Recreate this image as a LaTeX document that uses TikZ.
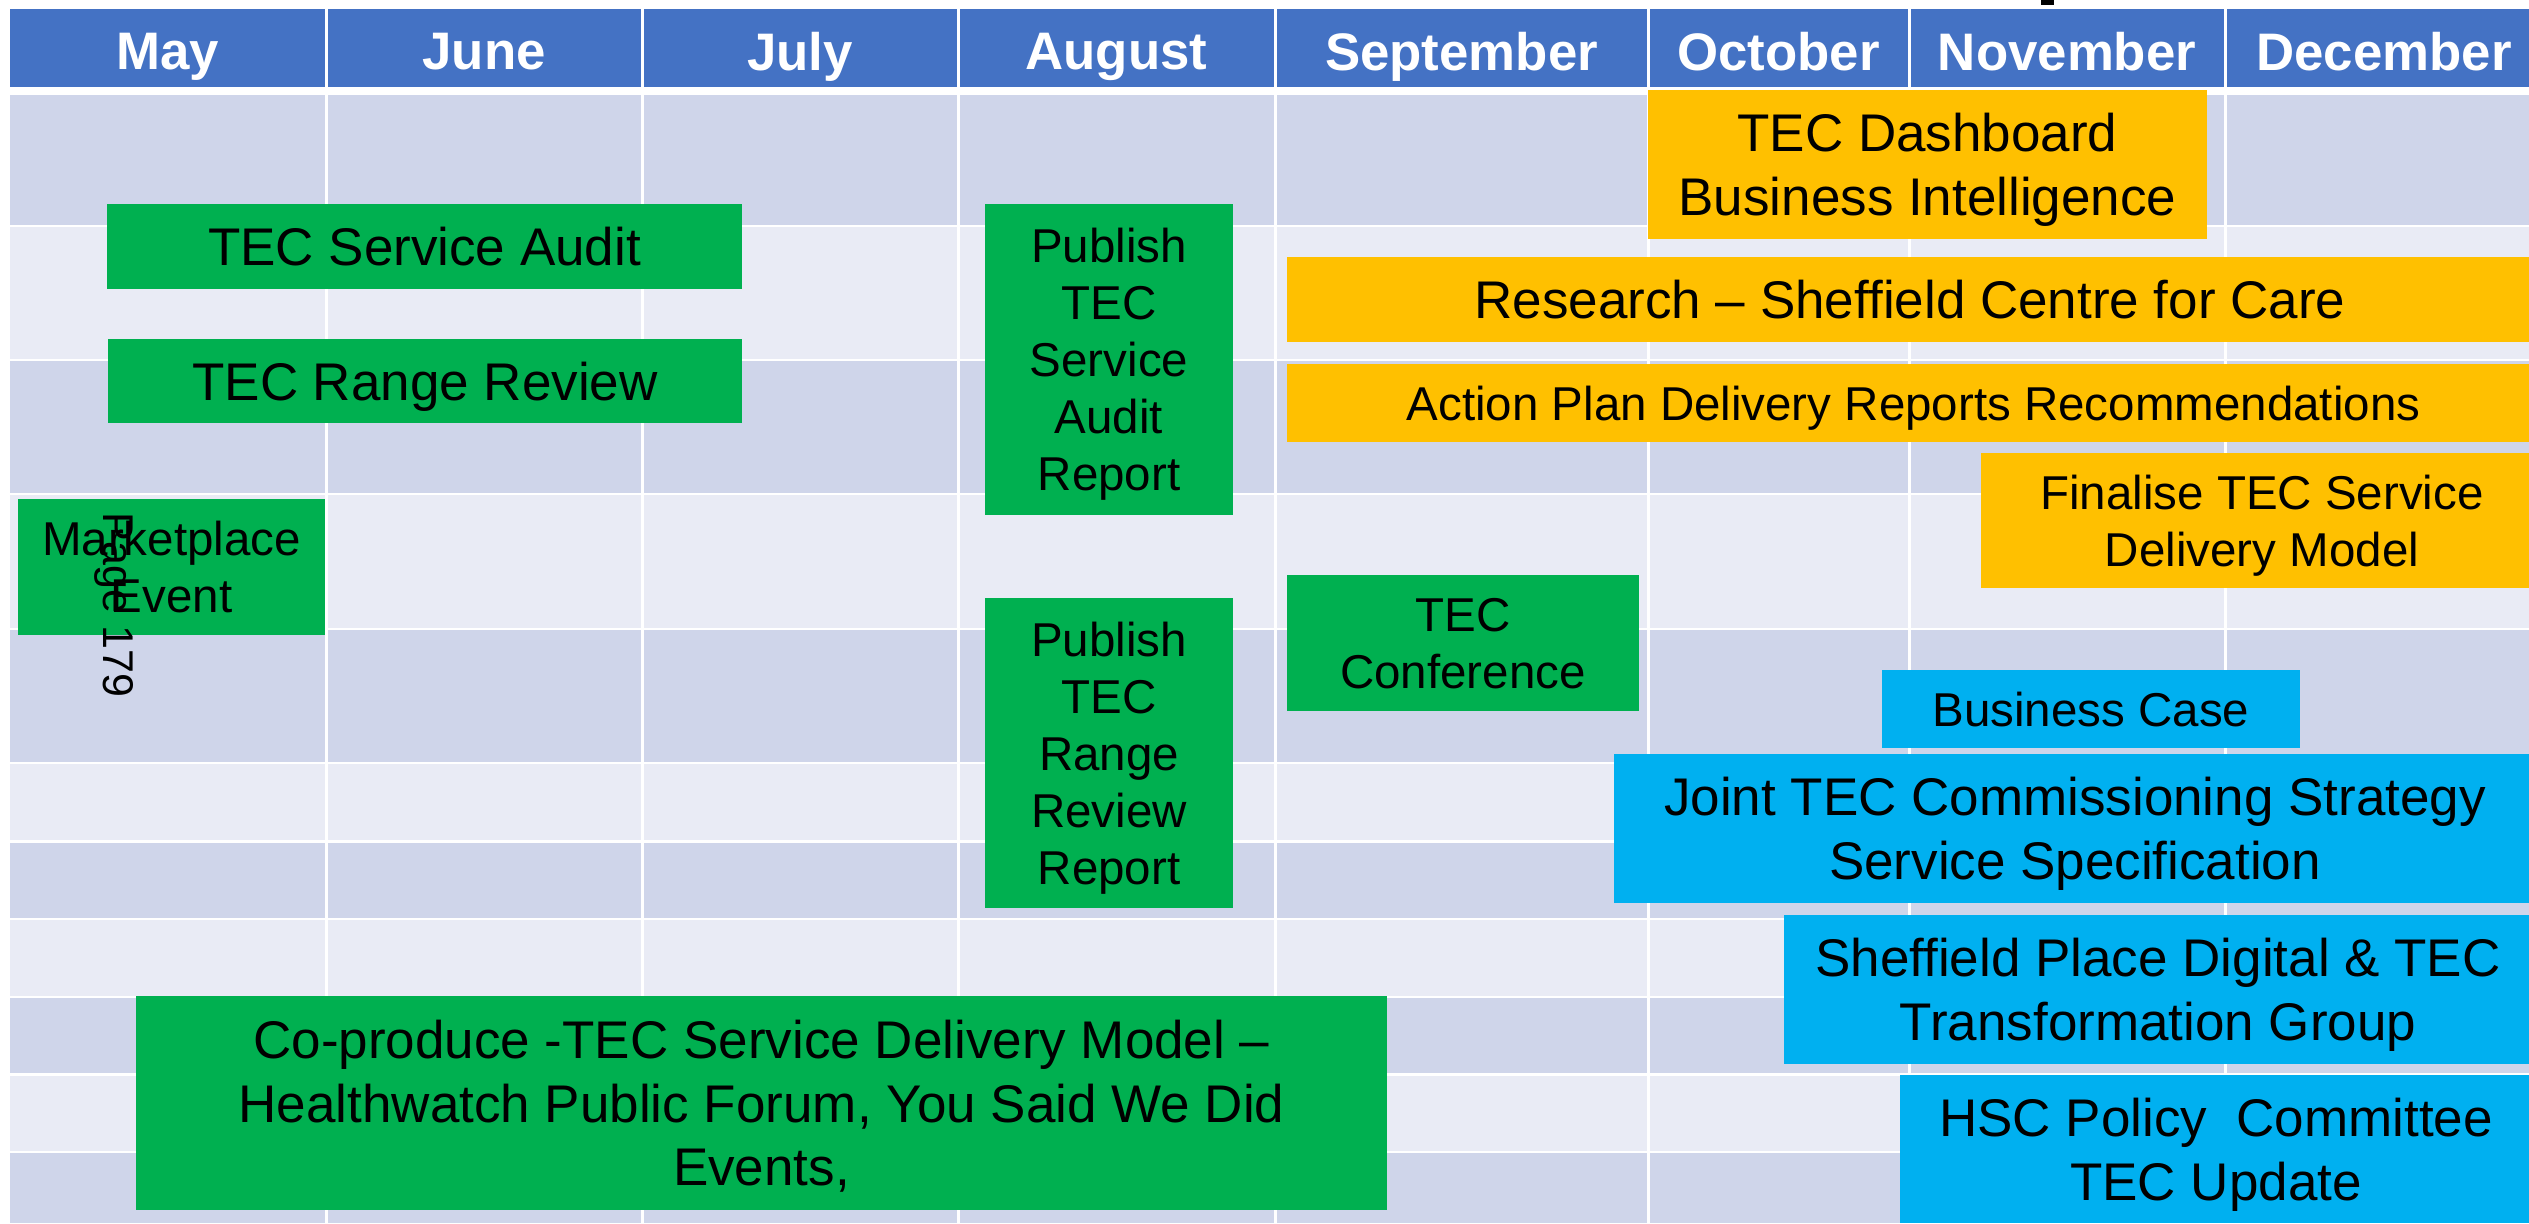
\documentclass[tikz,border=0pt]{standalone}
\usepackage{fontspec}
\setmainfont{Liberation Sans}
\definecolor{headblue}{HTML}{4472C4}
\definecolor{rowdark}{HTML}{CFD5EA}
\definecolor{rowlight}{HTML}{E9EBF5}
\definecolor{tecgreen}{HTML}{00B050}
\definecolor{tecamber}{HTML}{FFC000}
\definecolor{teccyan}{HTML}{00B0F0}
\tikzset{
  task/.style={rectangle, inner sep=0pt, align=center, text depth=0pt},
  bigtext/.style={font=\fontsize{26.5}{31.8}\selectfont},
  smalltext/.style={font=\fontsize{23.75}{28.5}\selectfont},
  greenbar/.style={task, fill=tecgreen},
  amberbar/.style={task, fill=tecamber},
  cyanbar/.style={task, fill=teccyan},
  month/.style={text=white, inner sep=0pt, text depth=0pt, font=\fontsize{26.4}{30}\selectfont\bfseries}
}
\begin{document}
\begin{tikzpicture}[x=0.5pt, y=-0.5pt]
  \useasboundingbox (0,0) rectangle (2529,1223);
  \fill[white] (0,0) rectangle (2529,1223);
  % table
  \fill[headblue] (10,9) rectangle (2529,87);
  \foreach \ya/\yb/\c in {95/226/rowdark, 226/360/rowlight, 360/494/rowdark, 494/629/rowlight,
      629/763/rowdark, 763/841.5/rowlight, 841.5/919/rowdark, 919/997/rowlight,
      997/1074.5/rowdark, 1074.5/1152/rowlight, 1152/1223/rowdark}
    \fill[\c] (10,\ya) rectangle (2529,\yb);
  \foreach \yy in {226,360,494,629,763,841.5,919,997,1074.5,1152}
    \draw[white, line width=1.25pt] (10,\yy) -- (2529,\yy);
  \foreach \xx in {326,642,958,1275,1648,1909,2225}
    \draw[white, line width=1.5pt] (\xx,9) -- (\xx,1223);
  \fill[black] (2041,0) rectangle (2054,5);
  % months
  \node[month] (may) at (168,51) {May};
  \node[month] (jun) at (484,51) {June};
  \node[month] (jul) at (800,51) {July};
  \node[month] (aug) at (1116.5,51) {August};
  \node[month] (sep) at (1461.5,51) {September};
  \node[month] (oct) at (1778.5,51) {October};
  \node[month] (nov) at (2067,51) {November};
  \node[month] (dec) at (2384,51) {December};
  % tasks
  \node[amberbar, bigtext, minimum width=279.5pt, minimum height=74.5pt] (dash) at (1927.5,164.5) {TEC Dashboard\\Business Intelligence};
  \node[greenbar, bigtext, minimum width=317.5pt, minimum height=42.5pt] (audit) at (424.5,246.5) {TEC Service Audit};
  \node[greenbar, bigtext, minimum width=317pt, minimum height=42pt] (range) at (425,381) {TEC Range Review};
  \node[greenbar, smalltext, minimum width=153.5pt, minimum height=68pt] (market) at (171.5,567) {Marketplace\\Event};
  \node[greenbar, smalltext, minimum width=124pt, minimum height=155.5pt] (pubaudit) at (1109,359.5) {Publish\\TEC\\Service\\Audit\\Report};
  \node[greenbar, smalltext, minimum width=124pt, minimum height=155pt] (pubrange) at (1109,753) {Publish\\TEC\\Range\\Review\\Report};
  \node[amberbar, bigtext, minimum width=623pt, minimum height=42.5pt] (research) at (1910,299.5) {Research – Sheffield Centre for Care};
  \node[amberbar, smalltext, minimum width=626.5pt, minimum height=39pt] (action) at (1913.5,403) {Action Plan Delivery Reports Recommendations};
  \node[amberbar, smalltext, minimum width=281pt, minimum height=67.5pt] (final) at (2262,520.5) {Finalise TEC Service\\Delivery Model};
  \node[greenbar, smalltext, minimum width=176pt, minimum height=68pt] (conf) at (1463,643) {TEC\\Conference};
  \node[cyanbar, smalltext, minimum width=209pt, minimum height=39pt] (bcase) at (2091,709) {Business Case};
  \node[cyanbar, bigtext, minimum width=461pt, minimum height=74.5pt] (joint) at (2075,828.5) {Joint TEC Commissioning Strategy\\Service Specification};
  \node[cyanbar, bigtext, minimum width=374pt, minimum height=74.5pt] (place) at (2158,989.5) {Sheffield Place Digital \& TEC\\Transformation Group};
  \node[cyanbar, bigtext, minimum width=316pt, minimum height=74pt] (hsc) at (2216,1149) {HSC Policy\ \ Committee\\TEC Update};
  \node[greenbar, bigtext, minimum width=625.5pt, minimum height=107pt] (coprod) at (761.5,1103) {Co-produce -TEC Service Delivery Model –\\Healthwatch Public Forum, You Said We Did\\Events,};
  \node[rotate=-90, inner sep=0pt, text depth=0pt, font=\fontsize{21.5}{25}\selectfont] (page) at (119,605) {Page 179};
\end{tikzpicture}
\end{document}
